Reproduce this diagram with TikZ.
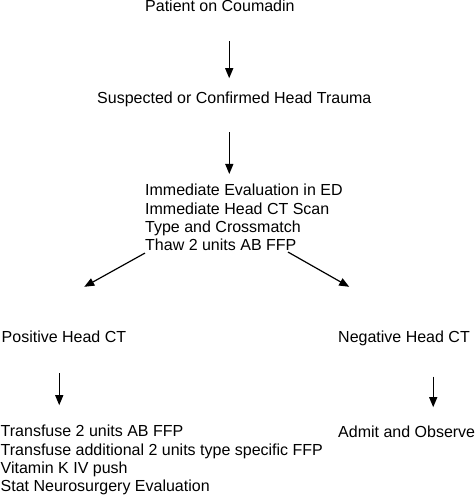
\documentclass[tikz,border=0pt]{standalone}
\usepackage{fontspec}
\setmainfont{Liberation Sans}
\usetikzlibrary{arrows.meta, positioning}

\tikzset{
  txt/.style={inner sep=0pt, font=\fontsize{16}{18.3}\selectfont, align=left},
  arr/.style={-{Triangle[length=10pt,width=8pt]}, line width=1.2pt},
}

\begin{document}
\begin{tikzpicture}[x=1pt, y=1pt]
  \useasboundingbox (0,0) rectangle (474,495);
  % main line
  \node[txt, anchor=base west] (pat) at (145,483) {Patient on Coumadin};
  \node[txt, anchor=base west] (susp) at (97,391) {Suspected or Confirmed Head Trauma};
  \node[txt, anchor=north west] (eval) at (145,311) {Immediate Evaluation in ED\\Immediate Head CT Scan\\Type and Crossmatch\\Thaw 2 units AB FFP};
  % the two outcomes
  \node[txt, anchor=base west] (pos) at (1.5,152) {Positive Head CT};
  \node[txt, anchor=base west] (neg) at (338,152) {Negative Head CT};
  \node[txt, anchor=north west] (trans) at (0.5,69.8) {Transfuse 2 units AB FFP\\Transfuse additional 2 units type specific FFP\\Vitamin K IV push\\Stat Neurosurgery Evaluation};
  \node[txt, anchor=base west] (adm) at (338,57) {Admit and Observe};

  \draw[arr, shorten <=29pt, shorten >=14pt] ([xshift=9.3pt]pat.south) -- ([xshift=9.3pt]pat.south |- susp.north);
  \draw[arr, shorten <=24.6pt, shorten >=10pt] ([xshift=-5pt]susp.south) -- ([xshift=-5pt]susp.south |- eval.north);
  \draw[arr] ([yshift=-2pt]eval.south west) -- ([xshift=20.3pt,yshift=44.4pt]pos.north);
  \draw[arr] ([xshift=143pt,yshift=-1pt]eval.south west) -- ([xshift=-54.8pt,yshift=44.4pt]neg.north);
  \draw[arr, shorten <=30pt, shorten >=20pt] ([xshift=-4.7pt]pos.south) -- ([xshift=-4.7pt]pos.south |- trans.north);
  \draw[arr, shorten <=30pt, shorten >=19pt] ([xshift=29.2pt]neg.south) -- ([xshift=29.2pt]neg.south |- adm.north);
\end{tikzpicture}
\end{document}
